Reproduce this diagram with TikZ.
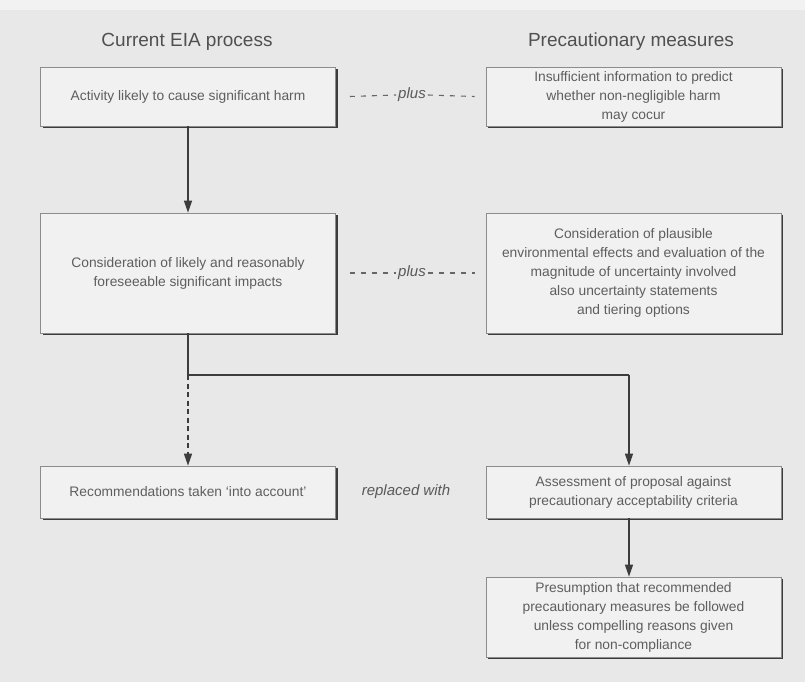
\documentclass[tikz,border=0pt]{standalone}
\usepackage{fontspec}
\setmainfont{Liberation Sans}
\usetikzlibrary{arrows.meta,shadows}
\definecolor{bg}{HTML}{E8E8E8}
\definecolor{topband}{HTML}{F2F2F2}
\definecolor{boxfill}{HTML}{F1F1F1}
\definecolor{txt}{HTML}{5E5E5E}
\definecolor{ttl}{HTML}{505050}
\definecolor{ln}{HTML}{3C3C3C}
\begin{document}
\begin{tikzpicture}[x=1pt,y=-1pt,
  box/.style={draw=black!45, line width=0.7pt, fill=boxfill, minimum width=295pt, inner sep=0pt, align=center, text=txt,
    font=\fontsize{13.8}{19}\selectfont,
    drop shadow={shadow xshift=2.2pt, shadow yshift=-2.2pt, fill=ln, opacity=1}},
  title/.style={text=ttl, font=\fontsize{19}{22}\selectfont},
  conn/.style={draw=ln, line width=1.3pt, -{Triangle[length=12pt,width=8pt]}},
  plain/.style={draw=ln, line width=1.3pt},
  plusline/.style={draw=black!60, line width=1.1pt, dash pattern=on 5pt off 6pt},
  lbl/.style={text=black!65, inner sep=2pt, font=\fontsize{15}{17}\selectfont\itshape}
]
\useasboundingbox (0,0) rectangle (805,682);
\fill[bg] (0,0) rectangle (805,682);
\fill[topband] (0,0) rectangle (805,10);

\node[title] (t1) at (187,42) {Current EIA process};
\node[title] (t2) at (631,42) {Precautionary measures};

\node[box, minimum height=59pt] (a1) at (188,96.5) {Activity likely to cause significant harm};
\node[box, minimum height=59pt] (p1) at (633.5,96.5) {Insufficient information to predict\\whether non-negligible harm\\may cocur};

\node[box, minimum height=120pt] (a2) at (188,273) {Consideration of likely and reasonably\\foreseeable significant impacts};
\node[box, minimum height=120pt] (p2) at (633.5,273) {Consideration of plausible\\environmental effects and evaluation of the\\magnitude of uncertainty involved\\also uncertainty statements\\and tiering options};

\node[box, minimum height=52pt] (a3) at (188,492) {Recommendations taken `into account'};
\node[box, minimum height=52pt] (p3) at (633.5,492) {Assessment of proposal against\\precautionary acceptability criteria};

\node[box, minimum height=80pt] (p4) at (633.5,617) {Presumption that recommended\\precautionary measures be followed\\unless compelling reasons given\\for non-compliance};

\node[lbl] (pl1) at (412,95) {plus};
\node[lbl] (pl2) at (412,273) {plus};
\node[lbl] (rw) at (406,492) {replaced with};

\draw[plusline] ([xshift=14pt]a1.east) -- (pl1.west);
\draw[plusline] (pl1.east) -- ([xshift=-11pt]p1.west);
\draw[plusline] ([xshift=14pt]a2.east) -- (pl2.west);
\draw[plusline] (pl2.east) -- ([xshift=-11pt]p2.west);

\coordinate (j) at (188,375);
\coordinate (jr) at (629,375);

\draw[conn] (a1) -- (a2);
\draw[plain] (a2.south) -- (j) -- (jr);
\draw[conn] (jr) -- (jr |- p3.north);
\draw[conn, dash pattern=on 5pt off 3.5pt] (j) -- (a3.north);
\draw[conn] (p3.south -| jr) -- (p4.north -| jr);
\end{tikzpicture}
\end{document}
